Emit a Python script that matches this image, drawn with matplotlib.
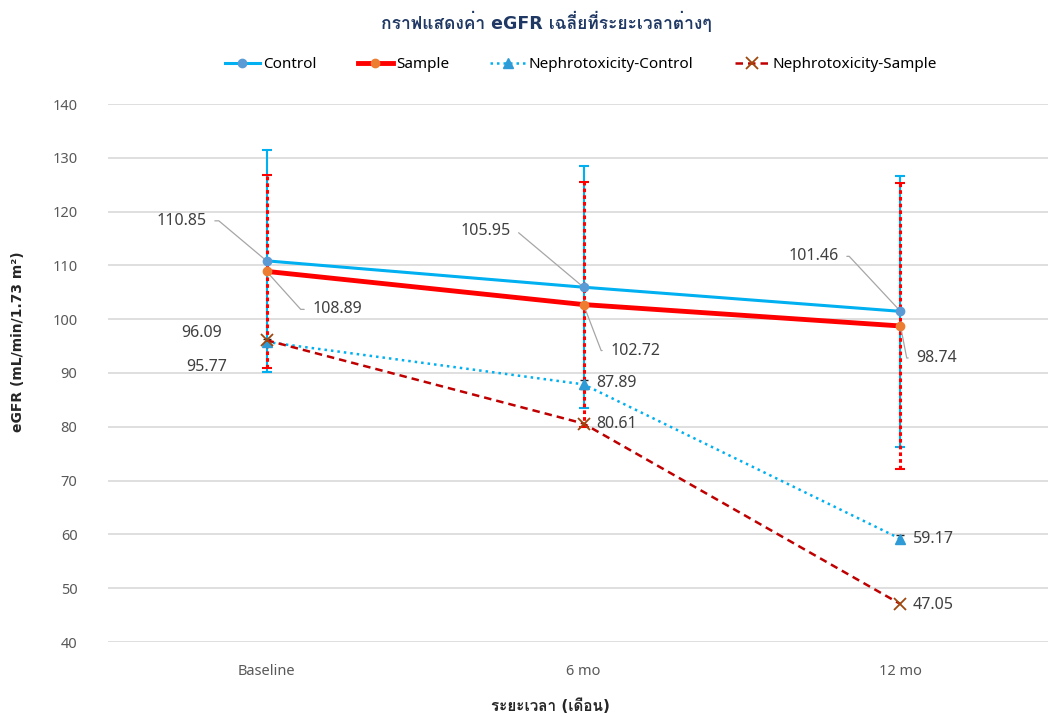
import numpy as np
import matplotlib
matplotlib.use("Agg")
import matplotlib.pyplot as plt
from matplotlib import font_manager
from matplotlib.ft2font import FT2Font

# data
periods = ["Baseline", "6 mo", "12 mo"]
control = [110.85, 105.95, 101.46]
control_sd = [20.6, 22.5, 25.2]
sample = [108.89, 102.72, 98.74]
sample_sd = [17.9, 22.8, 26.6]
nephro_control = [95.77, 87.89, 59.17]
nephro_control_sd = [0.5, 0.8, 0.8]
nephro_sample = [96.09, 80.61, 47.05]


def find_thai_family():
    """Return the first installed font family that has Thai glyphs."""
    for f in font_manager.fontManager.ttflist:
        try:
            if 0x0E01 in FT2Font(f.fname).get_charmap():
                return f.name
        except Exception:
            pass
    return None


thai = [find_thai_family()] if find_thai_family() else []
families = ["Noto Sans"] + thai + ["DejaVu Sans"]
bold_families = ["DejaVu Sans"] + thai
plt.rcParams["font.family"] = families

fig = plt.figure(figsize=(10.48, 7.17), dpi=100)
ax = fig.add_axes([108 / 1048, 75 / 717, 940 / 1048, 538 / 717])
x = np.arange(len(periods))

# error bars first so the lines sit on top
ax.errorbar(x, control, yerr=control_sd, fmt="none", ecolor="#00B0F0",
            elinewidth=1.5, capsize=3.5, capthick=1.5, zorder=2)
eb = ax.errorbar(x, sample, yerr=sample_sd, fmt="none", ecolor="#FF0000",
                 elinewidth=2.2, capsize=3.5, capthick=1.5, zorder=3)
eb[2][0].set_linestyle((0, (1.2, 1.0)))
ax.errorbar(x, nephro_control, yerr=nephro_control_sd, fmt="none", ecolor="#262626",
            elinewidth=1.0, capsize=3, capthick=1.0, zorder=3)

ax.plot(x, control, color="#00B0F0", lw=2.2, marker="o", ms=6,
        mfc="#5B9BD5", mec="#5B9BD5", label="Control", zorder=5)
ax.plot(x, sample, color="#FF0000", lw=3.5, marker="o", ms=6,
        mfc="#ED7D31", mec="#ED7D31", label="Sample", zorder=4)
ax.plot(x, nephro_control, color="#00B0F0", lw=1.8, ls=(0, (1, 1.6)), marker="^", ms=7,
        mfc="#2E9BD6", mec="#2E9BD6", label="Nephrotoxicity-Control", zorder=4)
ax.plot(x, nephro_sample, color="#C00000", lw=1.8, ls=(0, (3, 2)), marker="x", ms=8,
        mew=1.3, mfc="none", mec="#9E480E", label="Nephrotoxicity-Sample", zorder=4)

ax.set_xlim(-0.5, -0.5 + 940 / 317)
ax.set_ylim(40, 140)
ax.set_yticks(np.arange(40, 141, 10))
ax.set_xticks(x)
ax.set_xticklabels(periods)
ax.grid(axis="y", color="#D9D9D9", lw=1.2)
ax.set_axisbelow(True)
for s in ax.spines.values():
    s.set_visible(False)
ax.tick_params(axis="y", length=0, pad=22, labelsize=10.5, labelcolor="#595959")
ax.tick_params(axis="x", length=0, pad=16, labelsize=10.5, labelcolor="#595959")

# data labels (offsets in pixels), leader lines where the reference has them
lbl = dict(textcoords="offset pixels", fontsize=11.5, color="#404040", va="center")
lead = dict(arrowstyle="-", color="#A6A6A6", lw=0.9, shrinkA=4, shrinkB=0)

ax.annotate(f"{control[0]:.2f}", (x[0], control[0]), xytext=(-60, 40), ha="right", **lbl,
            arrowprops=dict(**lead, relpos=(1, 0.5), connectionstyle="angle,angleA=0,angleB=-40,rad=0"))
ax.annotate(f"{control[1]:.2f}", (x[1], control[1]), xytext=(-73, 56), ha="right", **lbl,
            arrowprops=dict(**lead, relpos=(1, 0.5), connectionstyle="angle,angleA=0,angleB=-40,rad=0"))
ax.annotate(f"{control[2]:.2f}", (x[2], control[2]), xytext=(-62, 55), ha="right", **lbl,
            arrowprops=dict(**lead, relpos=(1, 0.5), connectionstyle="angle,angleA=0,angleB=-47,rad=0"))

ax.annotate(f"{sample[0]:.2f}", (x[0], sample[0]), xytext=(46, -38), ha="left", **lbl,
            arrowprops=dict(**lead, relpos=(0, 0.5), connectionstyle="angle,angleA=0,angleB=132,rad=0"))
ax.annotate(f"{sample[1]:.2f}", (x[1], sample[1]), xytext=(27, -46), ha="left", **lbl,
            arrowprops=dict(**lead, relpos=(0, 0.5), connectionstyle="angle,angleA=0,angleB=111,rad=0"))
ax.annotate(f"{sample[2]:.2f}", (x[2], sample[2]), xytext=(16, -32), ha="left", **lbl,
            arrowprops=dict(**lead, relpos=(0, 0.5), connectionstyle="angle,angleA=0,angleB=101,rad=0"))

ax.annotate(f"{nephro_control[0]:.2f}", (x[0], nephro_control[0]), xytext=(-39, -25), ha="right", **lbl)
ax.annotate(f"{nephro_control[1]:.2f}", (x[1], nephro_control[1]), xytext=(13, 1), ha="left", **lbl)
ax.annotate(f"{nephro_control[2]:.2f}", (x[2], nephro_control[2]), xytext=(12, 0), ha="left", **lbl)

ax.annotate(f"{nephro_sample[0]:.2f}", (x[0], nephro_sample[0]), xytext=(-44, 7), ha="right", **lbl)
ax.annotate(f"{nephro_sample[1]:.2f}", (x[1], nephro_sample[1]), xytext=(13, 0), ha="left", **lbl)
ax.annotate(f"{nephro_sample[2]:.2f}", (x[2], nephro_sample[2]), xytext=(12, -1), ha="left", **lbl)

fig.legend(loc="center", bbox_to_anchor=(581 / 1048, 1 - 65 / 717), ncol=4, frameon=False,
           fontsize=11, handlelength=2.3, handletextpad=0.2, columnspacing=2.7)

fig.text(546 / 1048, 1 - 22 / 717, "กราฟแสดงค่า eGFR เฉลี่ยที่ระยะเวลาต่างๆ", ha="center", va="center",
         fontsize=12.5, fontweight="bold", color="#1F3864", family=bold_families)
fig.text(550 / 1048, 1 - 706 / 717, "ระยะเวลา (เดือน)", ha="center", va="center",
         fontsize=11, fontweight="bold", color="#262626", family=bold_families)
fig.text(18 / 1048, 1 - 342 / 717, "eGFR (mL/min/1.73 m²)", ha="center", va="center",
         rotation=90, fontsize=10, fontweight="bold", color="#262626", family=bold_families)

fig.savefig("out.png", dpi=100)
